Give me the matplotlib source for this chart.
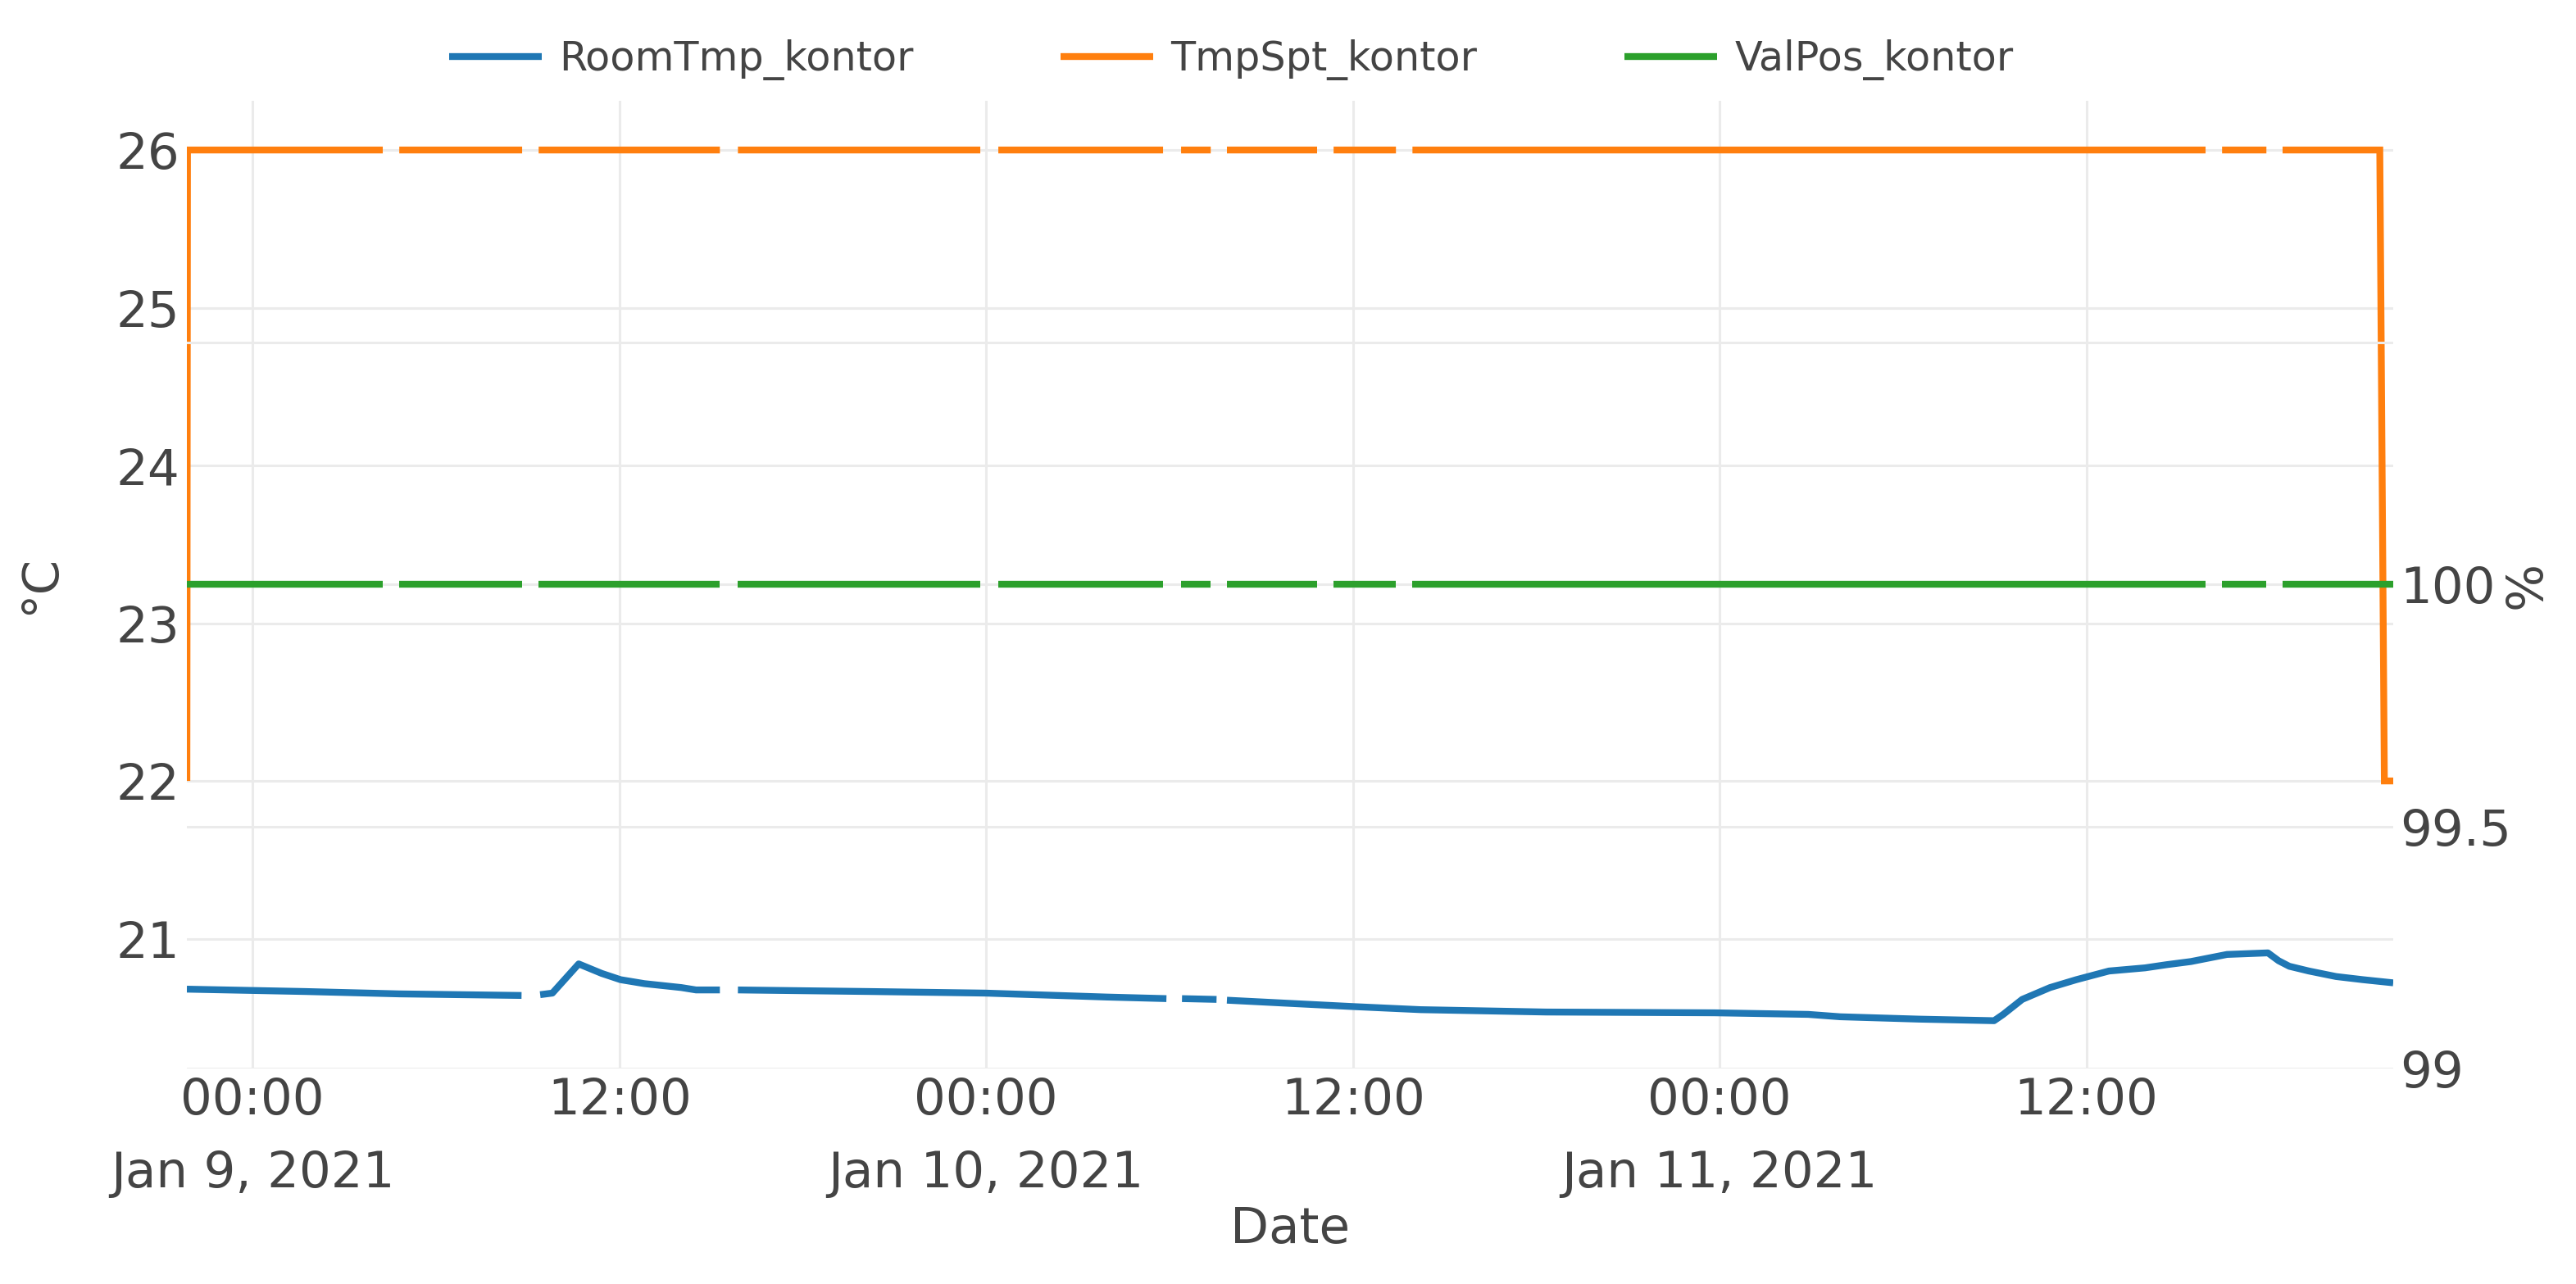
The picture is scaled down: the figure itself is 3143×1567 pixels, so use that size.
import numpy as np
import matplotlib
matplotlib.use("Agg")
import matplotlib.pyplot as plt

# ---------------- data (hours relative to 2021-01-09 00:00) ----------------
start_time = np.datetime64("2021-01-09T00:00:00")

room_hours = [-2.15, 1.72, 4.80, 8.80, 9.10, 9.41, 9.81, 10.67, 11.42, 12.04, 12.82,
              14.03, 14.51, 15.29, 15.58, 15.88, 20.19, 23.97, 27.94, 29.90, 30.15,
              30.41, 31.54, 31.70, 31.88, 35.96, 38.21, 42.32, 47.84, 50.90, 51.94,
              54.52, 56.98, 57.28, 57.90, 58.81, 59.67, 60.74, 61.92, 62.62, 63.42,
              64.60, 65.94, 66.29, 66.64, 67.28, 68.17, 69.05, 70.04]
room_temp = [20.68, 20.665, 20.65, 20.64, np.nan, 20.645, 20.655, 20.84, 20.78, 20.74, 20.715,
             20.69, 20.675, 20.675, np.nan, 20.675, 20.665, 20.655, 20.63, 20.62, np.nan,
             20.62, 20.615, np.nan, 20.61, 20.57, 20.55, 20.535, 20.53, 20.52, 20.505,
             20.49, 20.48, 20.52, 20.615, 20.69, 20.74, 20.795, 20.815, 20.835, 20.855,
             20.90, 20.91, 20.86, 20.825, 20.795, 20.76, 20.74, 20.72]

setpoint_hours = [-2.15, -2.13, 4.26, 4.53, 4.80, 8.82, 9.09, 9.36, 15.29, 15.58, 15.88,
                  23.81, 24.10, 24.40, 29.79, 30.08, 30.38, 31.35, 31.61, 31.88, 34.83,
                  35.10, 35.37, 37.41, 37.68, 37.95, 63.90, 64.17, 64.44, 65.89, 66.15,
                  66.42, 69.60, 69.75, 70.04]
setpoint_temp = [22, 26, 26, np.nan, 26, 26, np.nan, 26, 26, np.nan, 26,
                 26, np.nan, 26, 26, np.nan, 26, 26, np.nan, 26, 26,
                 np.nan, 26, 26, np.nan, 26, 26, np.nan, 26, 26, np.nan,
                 26, 26, 22, 22]

valve_hours = [-2.15, 4.26, 4.53, 4.80, 8.82, 9.09, 9.36, 15.29, 15.58, 15.88,
               23.81, 24.10, 24.40, 29.79, 30.08, 30.38, 31.35, 31.61, 31.88, 34.83,
               35.10, 35.37, 37.41, 37.68, 37.95, 63.90, 64.17, 64.44, 65.89, 66.15,
               66.42, 70.04]
valve_pos = [100, 100, np.nan, 100, 100, np.nan, 100, 100, np.nan, 100,
             100, np.nan, 100, 100, np.nan, 100, 100, np.nan, 100, 100,
             np.nan, 100, 100, np.nan, 100, 100, np.nan, 100, 100, np.nan,
             100, 100]

series_names = ["RoomTmp_kontor", "TmpSpt_kontor", "ValPos_kontor"]
series_colors = ["#1f77b4", "#ff7f0e", "#2ca02c"]

x_tick_times = ["2021-01-09T00:00", "2021-01-09T12:00", "2021-01-10T00:00",
                "2021-01-10T12:00", "2021-01-11T00:00", "2021-01-11T12:00"]
x_tick_labels = ["00:00\nJan 9, 2021", "12:00", "00:00\nJan 10, 2021",
                 "12:00", "00:00\nJan 11, 2021", "12:00"]
left_ticks = [21, 22, 23, 24, 25, 26]
right_ticks = [99, 99.5, 100, 100.5]
right_tick_labels = ["99", "99.5", "100", ""]


def to_time(hours):
    secs = np.round(np.asarray(hours, dtype=float) * 3600).astype("int64")
    return start_time + secs.astype("timedelta64[s]")


t_room = to_time(room_hours)
t_set = to_time(setpoint_hours)
t_valve = to_time(valve_hours)

# ---------------- figure ----------------
plt.rcParams["font.family"] = ["DejaVu Sans"]
fig = plt.figure(figsize=(31.43, 15.67), dpi=100)
ax = fig.add_axes([0.07254, 0.16784, 0.85651, 0.75367])
ax2 = ax.twinx()

lw = 6.0
grid_color = "#ebebeb"
text_color = "#444444"
tick_fs = 44

l1, = ax.plot(t_room, room_temp, color=series_colors[0], lw=lw,
              solid_capstyle="butt", solid_joinstyle="round")
l2, = ax.plot(t_set, setpoint_temp, color=series_colors[1], lw=lw,
              solid_capstyle="butt", solid_joinstyle="miter")
l3, = ax2.plot(t_valve, valve_pos, color=series_colors[2], lw=lw,
               solid_capstyle="butt")

all_times = np.concatenate([t_room, t_set, t_valve])
ax.set_xlim(all_times.min(), all_times.max())
ax.set_ylim(20.177, 26.312)
ax2.set_ylim(99.0, 101.0)

ax.set_xticks(np.array(x_tick_times, dtype="datetime64[s]"))
ax.set_xticklabels(x_tick_labels)
for t in ax.get_xticklabels():
    t.set_linespacing(1.65)
    t.set_multialignment("center")
ax.set_yticks(left_ticks)
ax.set_yticklabels([str(v) for v in left_ticks])
ax2.set_yticks(right_ticks)
ax2.set_yticklabels(right_tick_labels)

for a in (ax, ax2):
    for s in a.spines.values():
        s.set_visible(False)
ax.tick_params(axis="both", length=0, labelsize=tick_fs, labelcolor=text_color)
ax.tick_params(axis="x", pad=7)
ax.tick_params(axis="y", pad=6)
ax2.tick_params(axis="y", length=0, labelsize=tick_fs, labelcolor=text_color, pad=6)

ax.grid(True, color=grid_color, lw=2.2)
ax.set_axisbelow(True)
ax2.yaxis.grid(True, color=grid_color, lw=2.2)
ax2.set_axisbelow(True)

ax.set_xlabel("Date", fontsize=tick_fs, color=text_color)
ax.xaxis.set_label_coords(0.5, -0.166)
ax.xaxis.label.set_va("center")
ax.set_ylabel("°C", fontsize=tick_fs, color=text_color)
ax.yaxis.set_label_coords(-0.0661, 0.5)
ax.yaxis.label.set_va("center")
ax2.set_ylabel("%", fontsize=tick_fs, color=text_color, rotation=90)
ax2.yaxis.set_label_coords(1.0606, 0.5)
ax2.yaxis.label.set_va("center")

fig.legend(handles=[l1, l2, l3], labels=series_names, loc="center",
           bbox_to_anchor=(0.478, 0.9534), ncol=3, frameon=False, fontsize=35.5,
           handlelength=2.29, handletextpad=0.43, columnspacing=3.64,
           borderpad=0, labelcolor=text_color)

fig.savefig("out.png", dpi=100)
